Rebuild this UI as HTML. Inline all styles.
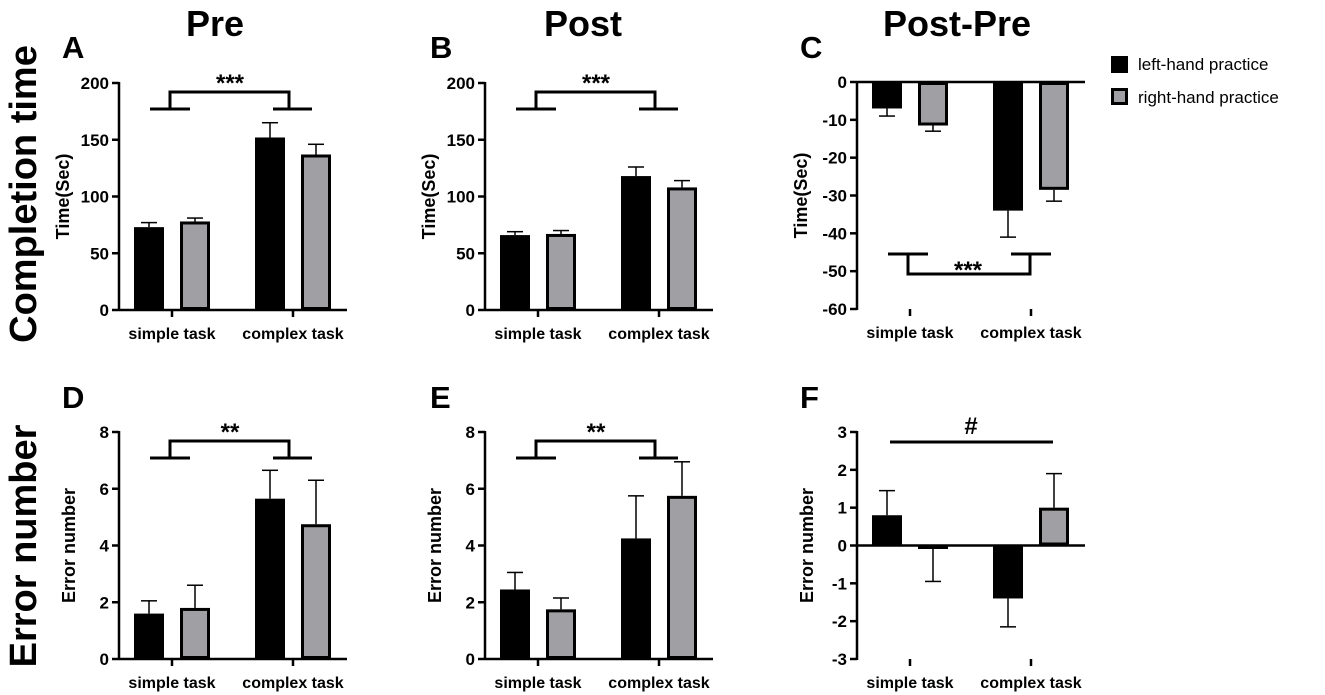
<!DOCTYPE html>
<html><head><meta charset="utf-8"><style>
body{margin:0;background:#fff}
svg{display:block;font-family:"Liberation Sans",Arial,sans-serif}
</style></head><body>
<svg id="fig" width="1325" height="695" viewBox="0 0 1325 695" xmlns="http://www.w3.org/2000/svg">
<g font-weight="bold" fill="#000">
<text x="215" y="36" font-size="36" text-anchor="middle">Pre</text>
<text x="583" y="36" font-size="36" text-anchor="middle">Post</text>
<text x="957" y="36" font-size="36" text-anchor="middle">Post-Pre</text>
<text transform="translate(36,194) rotate(-90)" font-size="38" text-anchor="middle">Completion time</text>
<text transform="translate(36,546) rotate(-90)" font-size="38" text-anchor="middle">Error number</text>
</g>
<g>
<rect x="1111" y="56" width="17" height="17" fill="#000"/>
<text x="1138" y="70" font-size="17">left-hand practice</text>
<rect x="1112.5" y="89.5" width="14" height="14" fill="#a0a0a4" stroke="#000" stroke-width="3"/>
<text x="1138" y="103" font-size="17">right-hand practice</text>
</g>
</svg>
<script>
const categories=["simple task","complex task"];
const leftA=[73,152], rightA=[78,137], leftAErr=[4,13], rightAErr=[3,9];
const leftB=[66,118], rightB=[67,108], leftBErr=[3,8], rightBErr=[3,6];
const leftC=[-7,-34], rightC=[-11.5,-28.5], leftCErr=[2,7], rightCErr=[1.5,3];
const leftD=[1.6,5.65], rightD=[1.8,4.75], leftDErr=[0.45,1.0], rightDErr=[0.8,1.55];
const leftE=[2.45,4.25], rightE=[1.75,5.75], leftEErr=[0.6,1.5], rightEErr=[0.4,1.2];
const leftF=[0.8,-1.4], rightF=[-0.05,1.0], leftFErr=[0.65,0.75], rightFErr=[0.9,0.9];
const ticksTime=[0,50,100,150,200];
const ticksDiff=[0,-10,-20,-30,-40,-50,-60];
const ticksErr=[0,2,4,6,8];
const ticksErrDiff=[3,2,1,0,-1,-2,-3];

const NS="http://www.w3.org/2000/svg";
const svg=document.getElementById('fig');
function mk(tag,attrs,parent){const e=document.createElementNS(NS,tag);for(const k in attrs)e.setAttribute(k,attrs[k]);(parent||svg).appendChild(e);return e;}

const panels=[
 {id:'a',letter:'A',lx:62,ly:58,ax:119,top:83,bot:310,ymin:0,ymax:200,ticks:ticksTime,title:'Time(Sec)',L:leftA,R:rightA,LE:leftAErr,RE:rightAErr,sig:'***'},
 {id:'b',letter:'B',lx:430,ly:58,ax:485,top:83,bot:310,ymin:0,ymax:200,ticks:ticksTime,title:'Time(Sec)',L:leftB,R:rightB,LE:leftBErr,RE:rightBErr,sig:'***'},
 {id:'c',letter:'C',lx:800,ly:58,ax:857,top:82,bot:309,ymin:-60,ymax:0,ticks:ticksDiff,title:'Time(Sec)',L:leftC,R:rightC,LE:leftCErr,RE:rightCErr,sig:'bottom'},
 {id:'d',letter:'D',lx:62,ly:408,ax:119,top:432,bot:659,ymin:0,ymax:8,ticks:ticksErr,title:'Error number',L:leftD,R:rightD,LE:leftDErr,RE:rightDErr,sig:'**'},
 {id:'e',letter:'E',lx:430,ly:408,ax:485,top:432,bot:659,ymin:0,ymax:8,ticks:ticksErr,title:'Error number',L:leftE,R:rightE,LE:leftEErr,RE:rightEErr,sig:'**'},
 {id:'f',letter:'F',lx:800,ly:408,ax:857,top:432,bot:659,ymin:-3,ymax:3,ticks:ticksErrDiff,title:'Error number',L:leftF,R:rightF,LE:leftFErr,RE:rightFErr,sig:'#'}
];

panels.forEach(p=>{
 const g=mk('g',{});
 
 
 const y=v=>p.bot-(v-p.ymin)/(p.ymax-p.ymin)*(p.bot-p.top);
 const tickX=[p.ax+53,p.ax+174];
 const xEnd=p.ax+228;
 const lt=mk('text',{x:p.lx,y:p.ly,'font-size':31,'font-weight':'bold'},g);lt.textContent=p.letter;
 
 
 [[p.L,p.LE,'#000',-23,'left'],[p.R,p.RE,'#a0a0a4',23,'right']].forEach(([vals,errs,fill,off,nm])=>{
  vals.forEach((v,i)=>{
   const cx=tickX[i]+off, y0=y(0), yv=y(v);
   const yt=Math.min(y0,yv), h=Math.abs(y0-yv);
   const sgn=v>=0?1:-1;
   const ye=y(v+sgn*errs[i]);
   const eb=mk('g',{},g);
   
   
   mk('line',{x1:cx,x2:cx,y1:yv,y2:ye,stroke:'#000','stroke-width':1.5},eb);
   mk('line',{x1:cx-8,x2:cx+8,y1:ye,y2:ye,stroke:'#000','stroke-width':1.5},eb);
   let r;
   if(fill==='#000') r=mk('rect',{x:cx-15,y:yt,width:30,height:h,fill:'#000'},g);
   else r=mk('rect',{x:cx-13.5,y:yt+1.5,width:27,height:Math.max(h-3,0.5),fill:fill,stroke:'#000','stroke-width':3},g);
   
   
  });
 });
 const ya=mk('line',{x1:p.ax,x2:p.ax,y1:p.top-1,y2:p.bot+1,stroke:'#000','stroke-width':2.5},g);
 
 
 const y0=y(0);
 const xa=mk('line',{x1:p.ax,x2:xEnd,y1:y0,y2:y0,stroke:'#000','stroke-width':2.5},g);
 
 
 p.ticks.forEach(t=>{
  mk('line',{x1:p.ax-7,x2:p.ax,y1:y(t),y2:y(t),stroke:'#000','stroke-width':2.5},g);
  const tl=mk('text',{x:p.ax-10,y:y(t)+6,'font-size':17,'font-weight':'bold','text-anchor':'end'},g);
  tl.textContent=t;
  
  
 });
 categories.forEach((c,i)=>{
  mk('line',{x1:tickX[i],x2:tickX[i],y1:p.bot,y2:p.bot+7,stroke:'#000','stroke-width':2.5},g);
  const cl=mk('text',{x:tickX[i],y:p.bot+29,'font-size':16,'font-weight':'bold','text-anchor':'middle'},g);
  cl.textContent=c;
  
  
 });
 const offT=p.ticks.some(t=>String(t).length>=3)?50:44;
 const at=mk('text',{transform:`translate(${p.ax-offT},${(p.top+p.bot)/2}) rotate(-90)`,'font-size':18,'font-weight':'bold','text-anchor':'middle'},g);
 at.textContent=p.title;
 
 
 const sg=mk('g',{stroke:'#000','stroke-width':3,fill:'none'},g);
 
 
 let sx,sy;
 if(p.sig==='#'){
  mk('line',{x1:p.ax+33,x2:p.ax+196,y1:p.top+10,y2:p.top+10},sg);
  sx=p.ax+114;sy=p.top;
 }else if(p.sig==='bottom'){
  const a=p.top+172,b=p.top+192;
  mk('line',{x1:p.ax+31,x2:p.ax+71,y1:a,y2:a},sg);
  mk('line',{x1:p.ax+154,x2:p.ax+194,y1:a,y2:a},sg);
  mk('polyline',{points:`${p.ax+51},${a} ${p.ax+51},${b} ${p.ax+173},${b} ${p.ax+173},${a}`},sg);
  sx=p.ax+111;sy=a+22;
 }else{
  const a=p.top+26,b=p.top+9;
  mk('line',{x1:p.ax+31,x2:p.ax+71,y1:a,y2:a},sg);
  mk('line',{x1:p.ax+154,x2:p.ax+193,y1:a,y2:a},sg);
  mk('polyline',{points:`${p.ax+51},${a} ${p.ax+51},${b} ${p.ax+170},${b} ${p.ax+170},${a}`},sg);
  sx=p.ax+111;sy=b-3;
 }
 const st=mk('text',{x:sx,y:sy+2,'font-size':24,'font-weight':'bold','text-anchor':'middle'},g);
 st.textContent=p.sig==='bottom'?'***':p.sig;
 
 
});
</script>
</body></html>
